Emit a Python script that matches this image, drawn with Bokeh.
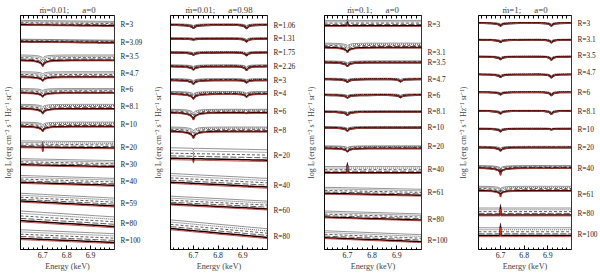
from bokeh.plotting import figure
from bokeh.layouts import row
from bokeh.models import FixedTicker, LinearAxis, Range1d
from bokeh.embed import file_html
from bokeh.resources import INLINE

# ---------------- shared spectral grid and line shapes ----------------
energy = [6.607, 6.63, 6.65, 6.66, 6.67, 6.68, 6.69, 6.695, 6.698, 6.70, 6.702, 6.705, 6.71, 6.72,
          6.73, 6.75, 6.78, 6.82, 6.86, 6.88, 6.895, 6.905, 6.91, 6.915, 6.92, 6.925, 6.935, 6.95,
          6.98, 7.0]
fexxv_dip = [0, 0.03, 0.07, 0.11, 0.17, 0.27, 0.45, 0.62, 0.82, 1.0, 0.82, 0.6, 0.42, 0.24,
             0.15, 0.07, 0.03, 0.01, 0, 0, 0, 0, 0, 0, 0, 0, 0, 0, 0, 0]
fexxvi_dip = [0, 0, 0, 0, 0, 0, 0, 0, 0, 0, 0, 0, 0, 0, 0, 0, 0, 0, 0, 0.05, 0.15, 0.35, 0.6,
              1.0, 0.6, 0.35, 0.15, 0.06, 0.01, 0]
narrow_line = [0, 0, 0, 0, 0, 0, 0, 0, 0, 1, 0, 0, 0, 0, 0, 0, 0, 0, 0, 0, 0, 0, 0, 0, 0, 0,
               0, 0, 0, 0]

x_ticks = [6.7, 6.8, 6.9]
x_minor = [6.62, 6.64, 6.66, 6.68, 6.72, 6.74, 6.76, 6.78, 6.82, 6.84, 6.86, 6.88, 6.92, 6.94,
           6.96, 6.98]

# curves in every group (top to bottom): thin solid, dotted, dashed, long dash, thick black, red
curve_offset = [1.0, 0.78, 0.55, 0.32, 0.12, 0.0]
curve_depth = [0.55, 0.65, 0.75, 0.85, 1.0, 1.0]
curve_color = ["#4a4a4a", "#111111", "#111111", "#111111", "black", "#e0302a"]
curve_dash = ["solid", "1 1", "3 2", "6 2", "solid", "solid"]
curve_width = [0.6, 0.7, 0.7, 0.7, 1.5, 0.9]

# ---------------- panel 1 : mdot=0.01, a=0 ----------------
p1_title = "ṁ=0.01;\u00a0\u00a0\u00a0\u00a0\u00a0\u00a0a=0"
p1_labels = ["R=3", "R=3.09", "R=3.5", "R=4.7", "R=6", "R=8.1", "R=10", "R=20", "R=30", "R=40",
             "R=59", "R=80", "R=100"]
p1_label_y = [22.8, 21.0, 19.5, 17.8, 16.2, 14.5, 12.7, 10.3, 8.6, 6.9, 4.7, 2.6, 0.9]
p1_left = [22.7, 21.0, 19.1, 17.4, 15.8, 14.2, 12.4, 10.3, 8.5, 6.7, 4.8, 2.8, 1.0]
p1_right = [22.6, 20.9, 19.1, 17.4, 15.8, 14.2, 12.4, 10.2, 8.3, 6.4, 4.3, 2.2, 0.6]
p1_spread = [0.5, 0.3, 0.6, 0.6, 0.5, 0.5, 0.5, 0.7, 0.7, 0.8, 0.9, 1.1, 1.0]
p1_fexxv = [0, 0, 0.6, 0.4, 0.4, 0.5, 0.5, 0, 0, 0, 0, 0, 0]
p1_fexxvi = [0, 0, 0, 0, 0, 0, 0, 0, 0, 0, 0, 0, 0]
p1_narrow = [0, 0, 0, 0, 0, 0, 0, 0.4, 0, 0, 0, 0, 0]

# ---------------- panel 2 : mdot=0.01, a=0.98 ----------------
p2_title = "ṁ=0.01;\u00a0\u00a0\u00a0\u00a0\u00a0\u00a0a=0.98"
p2_labels = ["R=1.06", "R=1.31", "R=1.75", "R=2.26", "R=3", "R=4", "R=6", "R=8", "R=20", "R=40",
             "R=60", "R=80"]
p2_label_y = [22.7, 21.4, 20.0, 18.5, 17.1, 15.8, 14.0, 12.1, 9.5, 6.5, 4.0, 1.3]
p2_left = [22.7, 21.3, 19.9, 18.5, 17.1, 15.7, 13.8, 11.9, 9.1, 6.7, 4.5, 2.0]
p2_right = [22.7, 21.3, 19.9, 18.5, 17.1, 15.7, 13.8, 11.9, 8.9, 6.2, 4.0, 1.1]
p2_spread = [0.15, 0.15, 0.15, 0.2, 0.2, 0.3, 0.4, 0.5, 1.2, 1.0, 0.9, 1.0]
p2_fexxv = [0.35, 0.1, 0.25, 0.35, 0.4, 0.5, 0.7, 0.7, 0, 0, 0, 0]
p2_fexxvi = [0.35, 0.3, 0.3, 0.4, 0.25, 0.3, 0.05, 0, 0, 0, 0, 0]
p2_narrow = [0, 0, 0, 0, 0, 0, 0, 0, 0.3, 0, 0, 0]

# ---------------- panel 3 : mdot=0.1, a=0 ----------------
p3_title = "ṁ=0.1;\u00a0\u00a0\u00a0\u00a0\u00a0\u00a0a=0"
p3_labels = ["R=3", "R=3.1", "R=3.5", "R=4.7", "R=6", "R=8.1", "R=10", "R=20", "R=40", "R=61",
             "R=80", "R=100"]
p3_label_y = [22.8, 20.0, 18.9, 17.2, 15.6, 14.0, 12.4, 10.4, 8.1, 5.8, 3.0, 0.9]
p3_left = [22.6, 20.4, 18.9, 17.2, 15.6, 13.9, 12.3, 10.2, 7.7, 5.6, 3.2, 1.1]
p3_right = [22.6, 20.4, 18.9, 17.2, 15.6, 13.9, 12.3, 10.2, 7.7, 5.4, 2.9, 0.7]
p3_spread = [0.6, 0.5, 0.2, 0.15, 0.15, 0.15, 0.15, 0.3, 0.7, 0.7, 0.7, 0.8]
p3_fexxv = [0, 0.5, 0.4, 0.3, 0.3, 0.35, 0.35, 0.35, 0, 0, 0, 0]
p3_fexxvi = [0, 0, 0, 0.25, 0.25, 0, 0, 0, 0, 0, 0, 0]
p3_narrow = [-0.3, 0, 0, 0, 0, 0, 0, 0, -0.8, 0, 0, 0]

# ---------------- panel 4 : mdot=1, a=0 ----------------
p4_title = "ṁ=1;\u00a0\u00a0\u00a0\u00a0\u00a0\u00a0a=0"
p4_labels = ["R=3", "R=3.1", "R=3.5", "R=4.7", "R=6", "R=8.1", "R=10", "R=20", "R=40", "R=61",
             "R=80", "R=100"]
p4_label_y = [22.9, 21.3, 19.6, 17.9, 15.9, 14.0, 12.2, 10.3, 8.2, 5.6, 3.6, 1.5]
p4_left = [22.9, 21.2, 19.5, 17.7, 15.9, 14.0, 12.2, 10.3, 8.2, 5.9, 3.4, 1.3]
p4_right = [22.9, 21.2, 19.5, 17.7, 15.9, 14.0, 12.2, 10.3, 8.2, 5.9, 3.4, 1.3]
p4_spread = [0.1, 0.1, 0.1, 0.1, 0.1, 0.1, 0.1, 0.15, 0.3, 0.5, 0.8, 0.9]
p4_fexxv = [0.3, 0.25, 0.3, 0.3, 0.25, 0.3, 0.3, 0.35, 0.5, 0.4, 0, 0]
p4_fexxvi = [0.3, 0.3, 0.35, 0.35, 0.35, 0.35, 0.1, 0, 0, 0, 0, 0]
p4_narrow = [0, 0, 0, 0, 0, 0, 0, 0, 0.2, 0.2, -0.7, -0.9]

SERIF = "Liberation Serif"
YLABEL = "log I\u2091 (erg cm\u207b\u00b2 s\u207b\u00b9 Hz\u207b\u00b9 sr\u207b\u00b9)"


def make_panel(title, labels, label_y, left, right, spread, dxxv, dxxvi, dnarrow,
               width, b_left, b_right, ylab_standoff):
    p = figure(width=width, height=273, output_backend="svg", toolbar_location=None,
               x_range=Range1d(6.607, 7.0), y_range=Range1d(0, 23.7),
               min_border_left=b_left, min_border_right=b_right,
               min_border_top=15, min_border_bottom=21)
    p.background_fill_color = "white"
    p.border_fill_color = "white"
    p.outline_line_color = "black"
    p.outline_line_width = 0.8
    p.xgrid.visible = False
    p.ygrid.visible = False

    p.title.text = title
    p.title.align = "center"
    p.title.text_font = SERIF
    p.title.text_font_size = "8.8px"
    p.title.text_font_style = "normal"
    p.title.standoff = 2

    span = energy[-1] - energy[0]
    for k in range(len(curve_offset)):
        xs, ys = [], []
        for g in range(len(labels)):
            yy = []
            for e, a, b, n in zip(energy, fexxv_dip, fexxvi_dip, narrow_line):
                base = left[g] + (right[g] - left[g]) * (e - energy[0]) / span
                yy.append(base + spread[g] * curve_offset[k]
                          - curve_depth[k] * (dxxv[g] * a + dxxvi[g] * b + dnarrow[g] * n))
            xs.append(energy)
            ys.append(yy)
        p.multi_line(xs=xs, ys=ys, line_color=curve_color[k], line_dash=curve_dash[k],
                     line_width=curve_width[k])

    # bottom axis
    xa = p.xaxis[0]
    xa.ticker = FixedTicker(ticks=x_ticks, minor_ticks=x_minor)
    xa.major_tick_in = 4
    xa.major_tick_out = 0
    xa.minor_tick_in = 2
    xa.minor_tick_out = 0
    xa.major_label_standoff = 2
    xa.major_label_text_font = SERIF
    xa.major_label_text_font_size = "7.8px"
    xa.major_label_text_color = "#222222"
    xa.axis_label = "Energy (keV)"
    xa.axis_label_text_font = SERIF
    xa.axis_label_text_font_size = "8.2px"
    xa.axis_label_text_font_style = "normal"
    xa.axis_label_standoff = 1
    xa.axis_line_width = 0.8

    # top axis: inward ticks only (no labels)
    top = LinearAxis(ticker=FixedTicker(ticks=[], minor_ticks=x_minor + x_ticks),
                     major_tick_in=0, major_tick_out=0, minor_tick_in=3, minor_tick_out=0,
                     major_label_standoff=0, axis_line_width=0.8)
    p.add_layout(top, "above")

    # left axis: label only
    ya = p.yaxis[0]
    ya.ticker = FixedTicker(ticks=[])
    ya.major_label_standoff = 0
    ya.major_tick_out = 0
    ya.minor_tick_out = 0
    ya.axis_label = YLABEL
    ya.axis_label_text_font = SERIF
    ya.axis_label_text_font_size = "8px"
    ya.axis_label_text_font_style = "normal"
    ya.axis_label_standoff = ylab_standoff
    ya.axis_line_width = 0.8

    # right axis: radius labels
    ra = LinearAxis(ticker=FixedTicker(ticks=label_y),
                    major_label_overrides={y: t for y, t in zip(label_y, labels)},
                    major_tick_in=0, major_tick_out=0, minor_tick_in=0, minor_tick_out=0,
                    axis_line_color=None, major_label_standoff=6,
                    major_label_text_font=SERIF, major_label_text_font_size="7.3px",
                    major_label_text_color="#222222")
    p.add_layout(ra, "right")
    return p


f1 = make_panel(p1_title, p1_labels, p1_label_y, p1_left, p1_right, p1_spread, p1_fexxv,
                p1_fexxvi, p1_narrow, 150, 17, 36, 8)
f2 = make_panel(p2_title, p2_labels, p2_label_y, p2_left, p2_right, p2_spread, p2_fexxv,
                p2_fexxvi, p2_narrow, 153, 20, 36, 8)
f3 = make_panel(p3_title, p3_labels, p3_label_y, p3_left, p3_right, p3_spread, p3_fexxv,
                p3_fexxvi, p3_narrow, 152, 20, 34, 9)
f4 = make_panel(p4_title, p4_labels, p4_label_y, p4_left, p4_right, p4_spread, p4_fexxv,
                p4_fexxvi, p4_narrow, 145, 20, 27, 11)

layout = row(f1, f2, f3, f4, spacing=0,
             styles={"position": "absolute", "left": "0px", "top": "0px"})

open("out.html", "w").write(file_html(layout, INLINE))
